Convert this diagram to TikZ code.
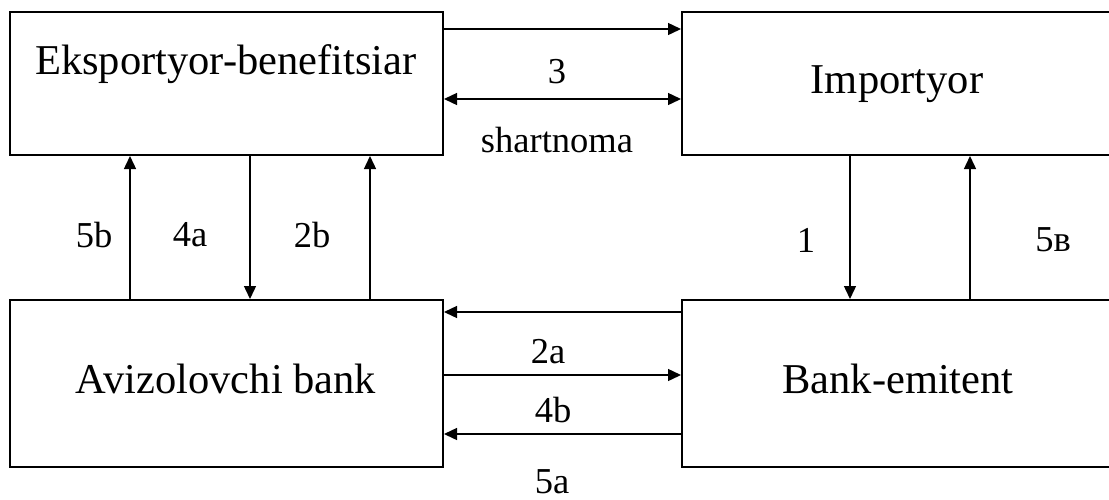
\documentclass[tikz,border=0pt]{standalone}
\usepackage{fontspec}
\setmainfont{Liberation Serif}
\usetikzlibrary{arrows.meta}
\begin{document}
\begin{tikzpicture}[x=1pt,y=-1pt,
  box/.style={draw,line width=2pt,inner sep=0pt},
  big/.style={font=\fontsize{42.5}{48}\selectfont,inner sep=0pt,anchor=base},
  lbl/.style={font=\fontsize{36.5}{42}\selectfont,inner sep=0pt},
  arr/.style={line width=1.4pt,-{Triangle[length=13pt,width=12pt]}},
  darr/.style={line width=1.4pt,{Triangle[length=13pt,width=12pt]}-{Triangle[length=13pt,width=12pt]}}]
\useasboundingbox (0,0) rectangle (1109,499);
\clip (0,0) rectangle (1109,499);
% boxes
\node[box,minimum width=433pt,minimum height=143pt] (ex) at (226.5,83.5) {};
\node[box,minimum width=440pt,minimum height=143pt] (im) at (902,83.5) {};
\node[box,minimum width=433pt,minimum height=167pt] (av) at (226.5,383.5) {};
\node[box,minimum width=440pt,minimum height=167pt] (be) at (902,383.5) {};
% box texts
\node[big] (tex) at (226,74) {Eksportyor-benefitsiar};
\node[big] (tim) at (897,93) {Importyor};
\node[big] (tav) at (226,393) {Avizolovchi bank};
\node[big] (tbe) at (898,393) {Bank-emitent};
% x / y reference coordinates
\coordinate (x5b) at (130,0);
\coordinate (x4a) at (250,0);
\coordinate (x2b) at (370,0);
\coordinate (x1) at (850,0);
\coordinate (x5v) at (970,0);
\coordinate (yt1) at (0,29);
\coordinate (yt2) at (0,99);
\coordinate (yb1) at (0,312);
\coordinate (yb2) at (0,375);
\coordinate (yb3) at (0,434);
% top horizontal arrows
\draw[arr] (ex.east |- yt1) -- (im.west |- yt1);
\draw[darr] (ex.east |- yt2) -- (im.west |- yt2);
% left vertical arrows
\draw[arr] (av.north -| x5b) -- (ex.south -| x5b);
\draw[arr] (ex.south -| x4a) -- (av.north -| x4a);
\draw[arr] (av.north -| x2b) -- (ex.south -| x2b);
% right vertical arrows
\draw[arr] (im.south -| x1) -- (be.north -| x1);
\draw[arr] (be.north -| x5v) -- (im.south -| x5v);
% bottom horizontal arrows
\draw[arr] (be.west |- yb1) -- (av.east |- yb1);
\draw[arr] (av.east |- yb2) -- (be.west |- yb2);
\draw[arr] (be.west |- yb3) -- (av.east |- yb3);
% labels
\node[lbl] (l3) at (557,72) {3};
\node[lbl] (lsh) at (557,140) {shartnoma};
\node[lbl] (l5b) at (94,235) {5b};
\node[lbl] (l4a) at (190,235) {4a};
\node[lbl] (l2b) at (312,235) {2b};
\node[lbl] (l1) at (806,240) {1};
\node[lbl] (l5v) at (1053,240) {5в};
\node[lbl] (l2a) at (548,352) {2a};
\node[lbl] (l4b) at (553,410) {4b};
\node[lbl,anchor=base] (l5a) at (552,493) {5a};
\end{tikzpicture}
\end{document}
